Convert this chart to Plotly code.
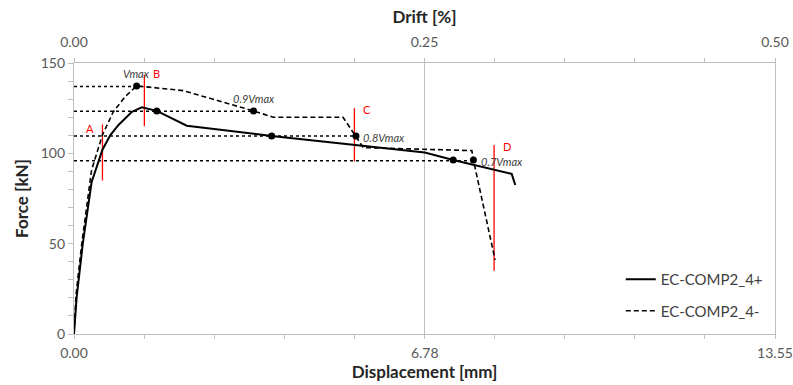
import plotly.graph_objects as go

# ---- data ----
pos_disp = [0, 0.05, 0.17, 0.28, 0.34, 0.55, 0.7, 0.86, 1.12, 1.31, 1.6, 2.18, 3.82, 6.78, 7.33, 8.46, 8.53]
pos_force = [0, 20, 50, 74, 84, 102, 110, 115.7, 123, 125.5, 123.5, 115.3, 109.6, 100.4, 96.3, 88.6, 82.5]

neg_disp = [0, 0.04, 0.15, 0.25, 0.34, 0.55, 0.76, 0.99, 1.21, 1.5, 2.11, 3.47, 3.85, 5.2, 5.45, 5.59, 7.69, 7.72, 8.14]
neg_force = [0, 22, 50, 72, 90.8, 110.2, 123, 131.4, 137.3, 136.5, 134.7, 123.5, 120, 120, 109.6, 103.2, 101.5, 96.3, 41]

pos_mark_disp = [1.6, 3.82, 7.33]
pos_mark_force = [123.5, 109.6, 96.3]
neg_mark_disp = [1.21, 3.47, 5.45, 7.72]
neg_mark_force = [137.3, 123.5, 109.6, 96.3]

level_labels = ["Vmax", "0.9Vmax", "0.8Vmax", "0.7Vmax"]
level_values = [137, 123.3, 109.6, 95.9]
level_end_disp = [1.21, 3.47, 5.45, 7.72]

stage_labels = ["A", "B", "C", "D"]
stage_disp = [0.55, 1.36, 5.42, 8.12]
stage_low = [85, 115, 95.5, 35]
stage_high = [116, 143.5, 125, 104.6]

x_ticks = [0, 6.78, 13.55]
drift_ticks = [0, 0.25, 0.5]

FONT = "Lato"
GRAY = "#bfbfbf"
TICKC = "#595959"

fig = go.Figure()

# dotted level lines
for lv, xe in zip(level_values, level_end_disp):
    fig.add_trace(go.Scatter(x=[0, xe], y=[lv, lv], mode="lines",
                             line=dict(color="black", width=1.5, dash="dot"),
                             showlegend=False, hoverinfo="skip"))

# red stage lines
for xd, lo, hi in zip(stage_disp, stage_low, stage_high):
    fig.add_trace(go.Scatter(x=[xd, xd], y=[lo, hi], mode="lines",
                             line=dict(color="#ff0000", width=1.3),
                             showlegend=False, hoverinfo="skip"))

fig.add_trace(go.Scatter(x=pos_disp, y=pos_force, mode="lines", name="EC-COMP2_4+",
                         line=dict(color="black", width=2), legendgroup="a"))
fig.add_trace(go.Scatter(x=neg_disp, y=neg_force, mode="lines", name="EC-COMP2_4-",
                         line=dict(color="black", width=1.6, dash="5px,3px"), legendgroup="b"))

fig.add_trace(go.Scatter(x=pos_mark_disp, y=pos_mark_force, mode="markers",
                         marker=dict(color="black", size=7), showlegend=False))
fig.add_trace(go.Scatter(x=neg_mark_disp, y=neg_mark_force, mode="markers",
                         marker=dict(color="black", size=7), showlegend=False))

# secondary axis trace (invisible) for drift
fig.add_trace(go.Scatter(x=[0, 0.5], y=[None, None], xaxis="x2", mode="lines",
                         showlegend=False, hoverinfo="skip"))

# level labels
lab_pos = [(1.2, 144.3), (3.47, 130.5), (6.0, 108.9), (8.28, 95.4)]
for t, (xx, yy) in zip(level_labels, lab_pos):
    fig.add_annotation(x=xx, y=yy, text="<i>" + t + "</i>", showarrow=False,
                       font=dict(family=FONT, size=11, color="#404040"))

stage_lab_pos = [(0.31, 113.5), (1.6, 144), (5.66, 124.4), (8.36, 104)]
for t, (xx, yy) in zip(stage_labels, stage_lab_pos):
    fig.add_annotation(x=xx, y=yy, text=t, showarrow=False,
                       font=dict(family=FONT, size=11, color="#ff0000"))

fig.update_layout(
    width=793, height=385,
    margin=dict(l=74, r=18, t=63, b=51),
    paper_bgcolor="white", plot_bgcolor="white",
    font=dict(family=FONT, size=14, color=TICKC),
    xaxis=dict(range=[0, 13.55], tickvals=x_ticks, ticktext=["0.00", "6.78", "13.55"],
               automargin=False,
               showgrid=True, gridcolor=GRAY, gridwidth=1.3, zeroline=False,
               showline=True, linecolor=GRAY, linewidth=1.3,
               ticks="outside", ticklen=4, tickcolor=GRAY, ticklabelstandoff=2,
               minor=dict(dtick=1.355, tick0=0, ticks="outside", ticklen=4, tickcolor=GRAY, showgrid=False),
               title=dict(text="<b>Displacement [mm]</b>", font=dict(size=17, color="#262626"), standoff=5),
               tickfont=dict(size=14, color=TICKC)),
    xaxis2=dict(range=[0, 0.5], overlaying="x", side="top", tickvals=drift_ticks,
                ticktext=["0.00", "0.25", "0.50"], showgrid=False, zeroline=False,
                automargin=False,
                showline=True, linecolor=GRAY, linewidth=1.3,
                ticks="outside", ticklen=4, tickcolor=GRAY, ticklabelstandoff=5,
                minor=dict(dtick=0.05, tick0=0, ticks="outside", ticklen=4, tickcolor=GRAY, showgrid=False),
                title=dict(text="<b>Drift [%]</b>", font=dict(size=17, color="#262626"), standoff=5),
                tickfont=dict(size=14, color=TICKC)),
    yaxis=dict(range=[0, 150], tickvals=[0, 50, 100, 150], showgrid=False, zeroline=False,
               automargin=False,
               showline=True, linecolor=GRAY, linewidth=1.3, mirror=True,
               ticks="outside", ticklen=5, tickcolor=GRAY,
               minor=dict(dtick=10, tick0=0, ticks="outside", ticklen=5, tickcolor=GRAY, showgrid=False),
               title=dict(text="<b>Force [kN]</b>", font=dict(size=17, color="#262626"), standoff=7),
               tickfont=dict(size=14, color=TICKC)),
    legend=dict(x=0.78, y=0.262, xanchor="left", yanchor="top", bgcolor="rgba(0,0,0,0)",
                font=dict(size=15, color="#404040"), tracegroupgap=9, itemwidth=30),
    showlegend=True,
)

fig.write_html("out.html")
